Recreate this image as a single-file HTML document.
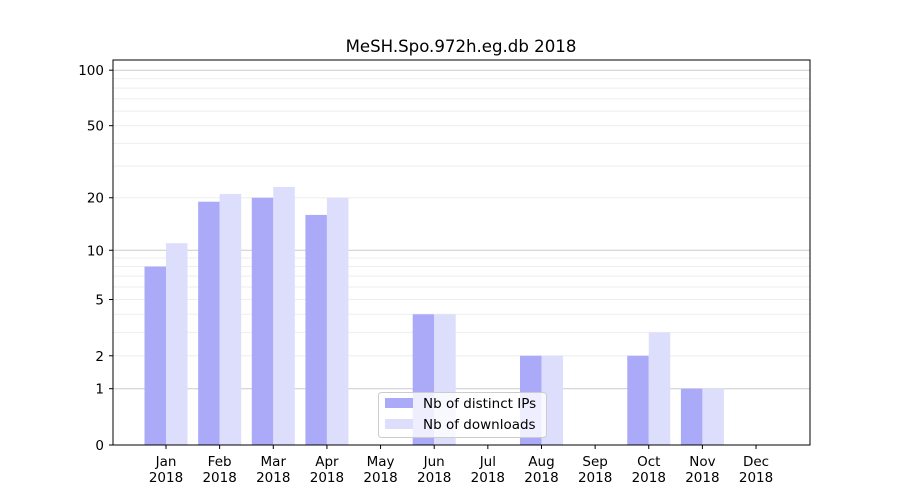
<!DOCTYPE html>
<html><head><meta charset="utf-8"><style>body{margin:0;background:#fff}svg{display:block}text{font-family:"DejaVu Sans","Liberation Sans",sans-serif;font-size:13.5px;fill:#000}</style></head>
<body>
<svg width="900" height="500" xmlns="http://www.w3.org/2000/svg">
<rect width="900" height="500" fill="#fff"/>
<g id="grid"></g>
<g id="bars"></g>
<rect x="113" y="60" width="697" height="385" fill="none" stroke="#000" stroke-width="1"/>
<g id="ticks"></g>
<text x="461" y="52" text-anchor="middle" style="font-size:16.6px">MeSH.Spo.972h.eg.db 2018</text>
<rect x="378.5" y="392.5" width="168" height="45" rx="3" fill="#fff" fill-opacity="0.8" stroke="#ccc"/>
<rect x="385" y="398" width="28" height="10" fill="#aaaaf8"/>
<rect x="385" y="419" width="28" height="10" fill="#ddddfc"/>
<text x="423" y="408">Nb of distinct IPs</text>
<text x="423" y="429">Nb of downloads</text>
<script>
var ns="http://www.w3.org/2000/svg";
function Y(v){return 445-187*Math.log10(1+v);}
function el(p,t,a,txt){var e=document.createElementNS(ns,t);for(var k in a)e.setAttribute(k,a[k]);if(txt)e.textContent=txt;document.getElementById(p).appendChild(e);}
var minor=[2,3,4,5,6,7,8,9,20,30,40,50,60,70,80,90];
minor.forEach(function(v){el("grid","line",{x1:113,x2:810,y1:Y(v),y2:Y(v),stroke:"#eee","stroke-width":1});});
[1,10,100].forEach(function(v){el("grid","line",{x1:113,x2:810,y1:Y(v),y2:Y(v),stroke:"#ccc","stroke-width":1});});
var ips=[8,19,20,16,0,4,0,2,0,2,1,0], dl=[11,21,23,20,0,4,0,2,0,3,1,0];
var m=["Jan","Feb","Mar","Apr","May","Jun","Jul","Aug","Sep","Oct","Nov","Dec"];
for(var i=0;i<12;i++){var c=166+i*53.64;
 if(ips[i]>0)el("bars","rect",{x:c-21.5,y:Y(ips[i]),width:21.5,height:445-Y(ips[i]),fill:"#aaaaf8"});
 if(dl[i]>0)el("bars","rect",{x:c,y:Y(dl[i]),width:21.5,height:445-Y(dl[i]),fill:"#ddddfc"});
 el("ticks","line",{x1:c,x2:c,y1:445,y2:449,stroke:"#000"});
 el("ticks","text",{x:c,y:466,"text-anchor":"middle"},m[i]);
 el("ticks","text",{x:c,y:482,"text-anchor":"middle"},"2018");
}
[0,1,2,5,10,20,50,100].forEach(function(v){var y=Y(v);el("ticks","line",{x1:109,x2:113,y1:y,y2:y,stroke:"#000"});el("ticks","text",{x:104,y:y+5,"text-anchor":"end"},String(v));});
</script>
</svg>
</body></html>
